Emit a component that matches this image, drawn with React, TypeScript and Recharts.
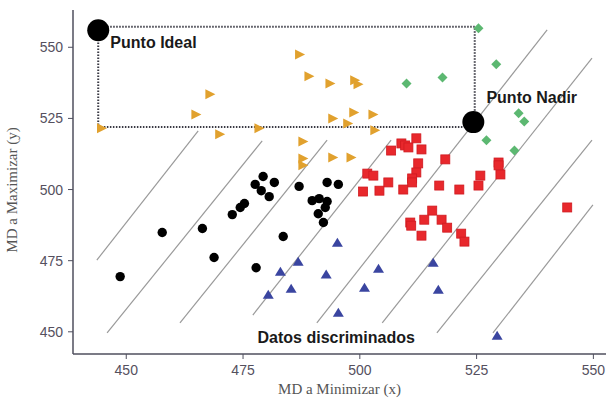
import React from "react";
import {
  ScatterChart,
  Scatter,
  XAxis,
  YAxis,
  ReferenceLine,
  ReferenceArea,
} from "recharts";

// puntos por grupo (x = MD a Minimizar, y = MD a Maximizar)
const blackPts = [
  { x: 448.7, y: 469.4 }, { x: 457.7, y: 484.9 }, { x: 466.3, y: 486.3 },
  { x: 468.8, y: 476.1 }, { x: 472.7, y: 491.2 }, { x: 474.4, y: 493.7 },
  { x: 475.3, y: 495.1 }, { x: 477.6, y: 501.8 }, { x: 479.3, y: 504.6 },
  { x: 481.7, y: 502.5 }, { x: 478.9, y: 499.6 }, { x: 480.6, y: 497.5 },
  { x: 477.8, y: 472.5 }, { x: 483.6, y: 483.5 }, { x: 487.0, y: 501.1 },
  { x: 493.0, y: 502.5 }, { x: 495.4, y: 501.8 }, { x: 489.8, y: 496.1 },
  { x: 491.3, y: 496.8 }, { x: 493.0, y: 495.8 }, { x: 492.6, y: 493.7 },
  { x: 491.1, y: 491.5 }, { x: 492.2, y: 488.4 },
];

const orangePts = [
  { x: 444.6, y: 521.5 }, { x: 467.8, y: 533.5 }, { x: 464.8, y: 526.4 },
  { x: 469.9, y: 519.4 }, { x: 478.3, y: 521.5 }, { x: 487.0, y: 547.5 },
  { x: 489.0, y: 539.8 }, { x: 493.5, y: 537.3 }, { x: 498.8, y: 538.4 },
  { x: 499.5, y: 537.0 }, { x: 494.1, y: 525.0 }, { x: 498.6, y: 527.1 },
  { x: 502.7, y: 526.4 }, { x: 497.3, y: 523.2 }, { x: 503.1, y: 520.8 },
  { x: 487.7, y: 516.9 }, { x: 487.7, y: 510.9 }, { x: 487.7, y: 508.5 },
  { x: 494.1, y: 511.3 }, { x: 498.0, y: 511.3 },
];

const greenPts = [
  { x: 525.4, y: 556.7 }, { x: 529.2, y: 544.0 }, { x: 534.0, y: 526.8 },
  { x: 535.2, y: 523.9 }, { x: 527.1, y: 517.3 }, { x: 533.1, y: 513.7 },
  { x: 510.0, y: 537.3 }, { x: 517.7, y: 539.4 },
];

const redPts = [
  { x: 506.7, y: 513.7 }, { x: 508.9, y: 516.2 }, { x: 509.7, y: 515.5 },
  { x: 510.4, y: 514.8 }, { x: 512.1, y: 518.0 }, { x: 513.2, y: 514.1 },
  { x: 512.5, y: 509.2 }, { x: 512.1, y: 506.0 }, { x: 511.2, y: 503.9 },
  { x: 511.2, y: 502.5 }, { x: 501.6, y: 505.6 }, { x: 502.9, y: 504.9 },
  { x: 506.1, y: 502.5 }, { x: 500.7, y: 499.3 }, { x: 504.2, y: 499.6 },
  { x: 509.3, y: 500.0 }, { x: 517.0, y: 501.4 }, { x: 521.3, y: 500.0 },
  { x: 518.3, y: 510.6 }, { x: 515.5, y: 492.6 }, { x: 513.8, y: 489.4 },
  { x: 510.8, y: 488.4 }, { x: 511.0, y: 487.3 }, { x: 517.5, y: 489.4 },
  { x: 518.7, y: 486.6 }, { x: 513.2, y: 483.8 }, { x: 521.7, y: 484.5 },
  { x: 522.4, y: 481.7 }, { x: 529.7, y: 509.5 }, { x: 529.7, y: 508.5 },
  { x: 525.8, y: 504.9 }, { x: 530.1, y: 505.3 }, { x: 525.4, y: 501.4 },
  { x: 544.4, y: 493.7 },
];

const bluePts = [
  { x: 495.2, y: 481.3 }, { x: 486.8, y: 474.6 }, { x: 483.0, y: 471.1 },
  { x: 485.3, y: 465.1 }, { x: 480.4, y: 463.0 }, { x: 492.8, y: 470.1 },
  { x: 504.0, y: 472.2 }, { x: 501.0, y: 465.5 }, { x: 495.4, y: 456.7 },
  { x: 515.7, y: 474.3 }, { x: 516.8, y: 464.8 }, { x: 529.4, y: 448.6 },
];

const idealPt = { x: 444.0, y: 556.0 };
const nadirPt = { x: 524.3, y: 523.7 };
const bigPts = [idealPt, nadirPt];

// lineas de isovalor
const isoLines = [
  { x1: 443.7, y1: 475.2, x2: 465.4, y2: 520.6 },
  { x1: 445.9, y1: 449.6, x2: 479.1, y2: 517.1 },
  { x1: 461.5, y1: 453.1, x2: 493.0, y2: 517.4 },
  { x1: 477.1, y1: 455.9, x2: 506.7, y2: 517.4 },
  { x1: 490.8, y1: 453.1, x2: 540.1, y2: 556.1 },
  { x1: 504.8, y1: 453.1, x2: 549.7, y2: 546.2 },
  { x1: 516.5, y1: 449.6, x2: 549.7, y2: 517.4 },
  { x1: 528.5, y1: 449.6, x2: 549.9, y2: 494.6 },
];

const annotations = [
  { x: 446.6, y: 549.6, text: "Punto Ideal" },
  { x: 527.1, y: 530.3, text: "Punto Nadir" },
  { x: 478.1, y: 446.1, text: "Datos discriminados" },
];

const xTicks = [450, 475, 500, 525, 550];
const yTicks = [450, 475, 500, 525, 550];
const xDomain = [438.6, 552.7];
const yDomain = [442.2, 563.1];

const frame = "#4f4f5e";
const tickFont = { fontFamily: "Liberation Sans, Arial, sans-serif", fontSize: 14, fill: "#55505e" };
const titleFont = { fontFamily: "Liberation Serif, Times New Roman, serif", fontSize: 15, fill: "#555" };

const circleShape = (p: any) => <circle cx={p.cx} cy={p.cy} r={4.7} fill="#000" />;
const bigCircle = (p: any) => <circle cx={p.cx} cy={p.cy} r={11} fill="#000" />;
const rightTri = (p: any) => (
  <polygon
    points={`${p.cx - 4},${p.cy - 5} ${p.cx + 6},${p.cy} ${p.cx - 4},${p.cy + 5}`}
    fill="#e1a12e"
  />
);
const upTri = (p: any) => (
  <polygon
    points={`${p.cx - 5.5},${p.cy + 4} ${p.cx + 5.5},${p.cy + 4} ${p.cx},${p.cy - 5}`}
    fill="#3a45a0"
  />
);
const square = (p: any) => (
  <rect x={p.cx - 4.5} y={p.cy - 4.5} width={9} height={9} fill="#e8282c" stroke="#d01a20" strokeWidth={0.8} />
);
const diamond = (p: any) => (
  <polygon
    points={`${p.cx},${p.cy - 5} ${p.cx + 5},${p.cy} ${p.cx},${p.cy + 5} ${p.cx - 5},${p.cy}`}
    fill="#5cb871"
  />
);
const textShape = (p: any) => (
  <text
    x={p.cx}
    y={p.cy}
    fontFamily="Liberation Sans, Arial, sans-serif"
    fontWeight="bold"
    fontSize={16}
    fill="#1a1a1a"
  >
    {p.payload.text}
  </text>
);

export default function App() {
  return (
    <div style={{ position: "absolute", left: 0, top: 0, background: "#fff" }}>
      <ScatterChart width={610} height={400} margin={{ top: 10, right: 4, bottom: 4, left: 0 }}>
        <XAxis
          type="number"
          dataKey="x"
          domain={xDomain}
          ticks={xTicks}
          allowDataOverflow
          height={42}
          tick={tickFont}
          tickSize={5}
          tickMargin={6}
          stroke={frame}
          axisLine={{ stroke: frame, strokeWidth: 1.5 }}
          label={{ value: "MD a Minimizar (x)", position: "insideBottom", offset: 2, style: titleFont }}
        />
        <YAxis
          type="number"
          dataKey="y"
          domain={yDomain}
          ticks={yTicks}
          allowDataOverflow
          width={73}
          tick={tickFont}
          tickSize={5}
          tickMargin={5}
          stroke={frame}
          axisLine={{ stroke: frame, strokeWidth: 1.5 }}
          label={{
            value: "MD a Maximizar (y)",
            angle: -90,
            position: "insideLeft",
            offset: 12,
            dy: 8,
            style: { ...titleFont, textAnchor: "middle" },
          }}
        />
        <XAxis
          xAxisId="top"
          orientation="top"
          type="number"
          domain={xDomain}
          allowDataOverflow
          height={0}
          tick={false}
          tickLine={false}
          axisLine={{ stroke: frame, strokeWidth: 1.5 }}
        />
        <YAxis
          yAxisId="right"
          orientation="right"
          type="number"
          domain={yDomain}
          allowDataOverflow
          width={0}
          tick={false}
          tickLine={false}
          axisLine={{ stroke: frame, strokeWidth: 1.5 }}
        />
        {isoLines.map((l, i) => (
          <ReferenceLine
            key={i}
            segment={[{ x: l.x1, y: l.y1 }, { x: l.x2, y: l.y2 }]}
            stroke="#9a9a9a"
            strokeWidth={1.2}
            ifOverflow="visible"
          />
        ))}
        <ReferenceArea
          x1={idealPt.x}
          x2={524.6}
          y1={522.0}
          y2={557.2}
          fill="none"
          stroke="#3a3a44"
          strokeWidth={2}
          strokeDasharray="1.5 1.5"
          fillOpacity={0}
          ifOverflow="visible"
        />
        <Scatter data={orangePts} shape={rightTri} isAnimationActive={false} />
        <Scatter data={greenPts} shape={diamond} isAnimationActive={false} />
        <Scatter data={redPts} shape={square} isAnimationActive={false} />
        <Scatter data={bluePts} shape={upTri} isAnimationActive={false} />
        <Scatter data={blackPts} shape={circleShape} isAnimationActive={false} />
        <Scatter data={bigPts} shape={bigCircle} isAnimationActive={false} />
        <Scatter data={annotations} shape={textShape} isAnimationActive={false} />
      </ScatterChart>
    </div>
  );
}
